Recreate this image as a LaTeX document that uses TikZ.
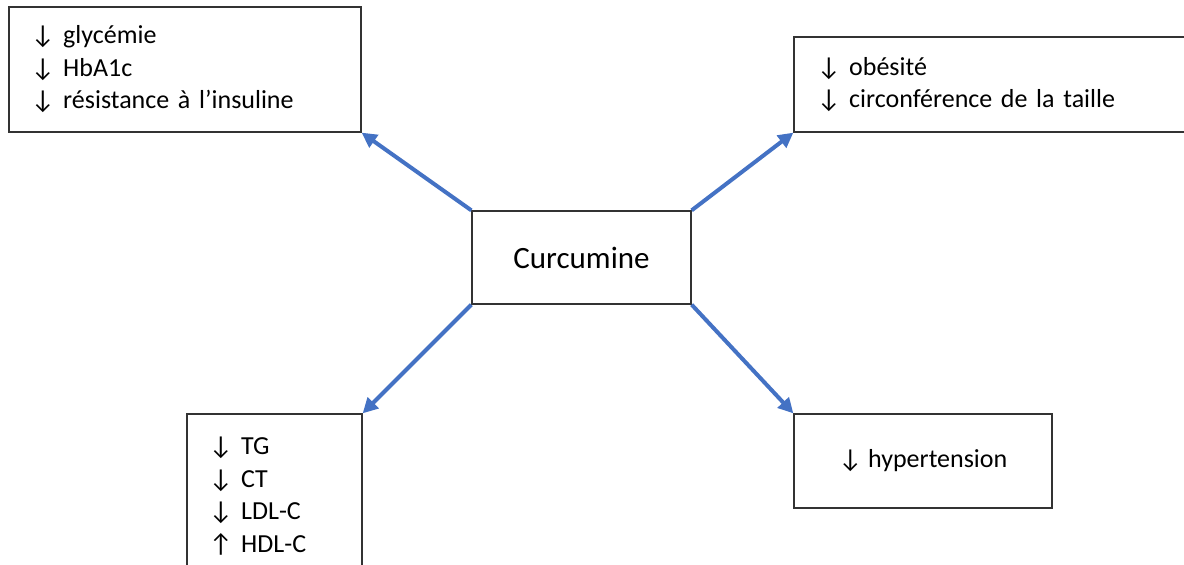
\documentclass[tikz,border=0pt]{standalone}
\usepackage{fontspec}
\setmainfont{Carlito}
\usepackage{xcolor}
\usetikzlibrary{arrows.meta,positioning}
\definecolor{accent}{HTML}{4472C4}

\begin{document}
\begin{tikzpicture}[
    x=1pt, y=-1pt,
    box/.style={draw=black!80, line width=1.3pt, rectangle, inner ysep=0pt, align=left,
        font=\fontsize{26}{32.5}\selectfont},
    main/.style={draw=black!80, line width=1.3pt, rectangle, minimum width=219pt, minimum height=93pt,
        font=\fontsize{31}{38}\selectfont},
    effect/.style={-{Triangle[length=15pt,width=15pt]}, accent, line width=4pt}
]
    \clip (0,0) rectangle (1184,565);

    % Centre
    \node[main] (cur) at (581.5,257.5) {Curcumine};

    % Effects
    \node[box, minimum width=352pt, minimum height=125pt, inner xsep=22pt, text width=308pt] (glyc) at (185,69.5)
        {↓ glycémie\\↓ HbA1c\\↓ résistance à l’insuline};
    \node[box, minimum width=400pt, minimum height=95pt, inner xsep=23pt, text width=354pt] (obes) at (994,84.5)
        {↓ obésité\\↓ circonférence de la taille};
    \node[box, minimum width=175pt, minimum height=164pt, inner xsep=22pt, text width=131pt] (lipid) at (274.5,496)
        {↓ TG\\↓ CT\\↓ LDL-C\\↑ HDL-C};
    \node[box, minimum width=258pt, minimum height=94pt, align=center] (hyper) at (923,461)
        {↓ hypertension};

    % Arrows
    \draw[effect] (cur.north west) -- (glyc.south east);
    \draw[effect] (cur.north east) -- (obes.south west);
    \draw[effect] (cur.south west) -- (lipid.north east);
    \draw[effect] (cur.south east) -- (hyper.north west);
\end{tikzpicture}
\end{document}
